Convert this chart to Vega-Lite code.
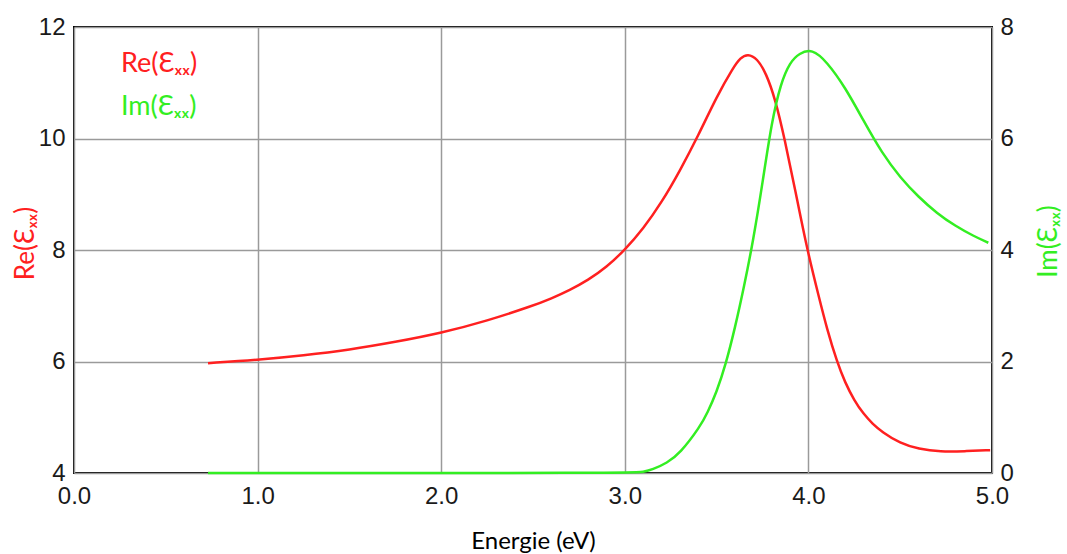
{
  "$schema": "https://vega.github.io/schema/vega-lite/v6.json",
  "width": 918,
  "height": 446,
  "autosize": {"type": "none"},
  "padding": {"left": 74, "top": 27, "right": 75, "bottom": 81},
  "background": "white",
  "config": {
    "view": {"stroke": "black", "strokeWidth": 2},
    "axis": {
      "domain": false,
      "ticks": false,
      "labelFlush": false,
      "labelOverlap": false,
      "labelFont": "Liberation Sans",
      "labelFontSize": 24,
      "labelColor": "#1a1a1a",
      "titleFont": "Lato",
      "titleFontWeight": "normal",
      "gridColor": "#9a9a9a",
      "gridWidth": 1.5
    }
  },
  "data": {
    "values": [
      {"E": 0.73, "value": 5.97, "series": "Re"},
      {"E": 1.0, "value": 6.03, "series": "Re"},
      {"E": 1.25, "value": 6.11, "series": "Re"},
      {"E": 1.5, "value": 6.21, "series": "Re"},
      {"E": 1.75, "value": 6.35, "series": "Re"},
      {"E": 2.0, "value": 6.51, "series": "Re"},
      {"E": 2.25, "value": 6.73, "series": "Re"},
      {"E": 2.5, "value": 7.0, "series": "Re"},
      {"E": 2.6, "value": 7.13, "series": "Re"},
      {"E": 2.7, "value": 7.28, "series": "Re"},
      {"E": 2.8, "value": 7.46, "series": "Re"},
      {"E": 2.9, "value": 7.69, "series": "Re"},
      {"E": 3.0, "value": 8.0, "series": "Re"},
      {"E": 3.1, "value": 8.38, "series": "Re"},
      {"E": 3.2, "value": 8.85, "series": "Re"},
      {"E": 3.3, "value": 9.42, "series": "Re"},
      {"E": 3.4, "value": 10.05, "series": "Re"},
      {"E": 3.5, "value": 10.75, "series": "Re"},
      {"E": 3.59, "value": 11.27, "series": "Re"},
      {"E": 3.63, "value": 11.45, "series": "Re"},
      {"E": 3.67, "value": 11.52, "series": "Re"},
      {"E": 3.72, "value": 11.44, "series": "Re"},
      {"E": 3.77, "value": 11.17, "series": "Re"},
      {"E": 3.82, "value": 10.7, "series": "Re"},
      {"E": 3.87, "value": 10.0, "series": "Re"},
      {"E": 3.93, "value": 9.05, "series": "Re"},
      {"E": 3.99, "value": 8.05, "series": "Re"},
      {"E": 4.06, "value": 7.12, "series": "Re"},
      {"E": 4.1, "value": 6.6, "series": "Re"},
      {"E": 4.155, "value": 6.0, "series": "Re"},
      {"E": 4.2, "value": 5.62, "series": "Re"},
      {"E": 4.25, "value": 5.3, "series": "Re"},
      {"E": 4.3, "value": 5.06, "series": "Re"},
      {"E": 4.35, "value": 4.88, "series": "Re"},
      {"E": 4.4, "value": 4.74, "series": "Re"},
      {"E": 4.5, "value": 4.53, "series": "Re"},
      {"E": 4.6, "value": 4.43, "series": "Re"},
      {"E": 4.72, "value": 4.38, "series": "Re"},
      {"E": 4.85, "value": 4.39, "series": "Re"},
      {"E": 4.99, "value": 4.41, "series": "Re"},
      {"E": 0.73, "value": 0, "series": "Im"},
      {"E": 3.05, "value": 0, "series": "Im"},
      {"E": 3.1, "value": 0.02, "series": "Im"},
      {"E": 3.15, "value": 0.06, "series": "Im"},
      {"E": 3.23, "value": 0.18, "series": "Im"},
      {"E": 3.3, "value": 0.35, "series": "Im"},
      {"E": 3.41, "value": 0.83, "series": "Im"},
      {"E": 3.45, "value": 1.08, "series": "Im"},
      {"E": 3.5, "value": 1.45, "series": "Im"},
      {"E": 3.55, "value": 1.95, "series": "Im"},
      {"E": 3.6, "value": 2.6, "series": "Im"},
      {"E": 3.65, "value": 3.35, "series": "Im"},
      {"E": 3.7, "value": 4.18, "series": "Im"},
      {"E": 3.75, "value": 5.2, "series": "Im"},
      {"E": 3.8, "value": 6.3, "series": "Im"},
      {"E": 3.85, "value": 7.0, "series": "Im"},
      {"E": 3.9, "value": 7.37, "series": "Im"},
      {"E": 3.95, "value": 7.53, "series": "Im"},
      {"E": 4.02, "value": 7.61, "series": "Im"},
      {"E": 4.1, "value": 7.38, "series": "Im"},
      {"E": 4.2, "value": 6.92, "series": "Im"},
      {"E": 4.3, "value": 6.32, "series": "Im"},
      {"E": 4.4, "value": 5.74, "series": "Im"},
      {"E": 4.5, "value": 5.3, "series": "Im"},
      {"E": 4.6, "value": 4.95, "series": "Im"},
      {"E": 4.7, "value": 4.66, "series": "Im"},
      {"E": 4.8, "value": 4.43, "series": "Im"},
      {"E": 4.9, "value": 4.25, "series": "Im"},
      {"E": 4.98, "value": 4.13, "series": "Im"}
    ]
  },
  "layer": [
    {
      "transform": [{"filter": "datum.series === 'Re'"}],
      "mark": {"type": "line", "interpolate": "basis", "strokeWidth": 2.5},
      "encoding": {
        "x": {
          "field": "E", "type": "quantitative",
          "scale": {"domain": [0, 5], "nice": false},
          "axis": {
            "title": "Energie (eV)", "values": [0, 1, 2, 3, 4, 5], "format": ".1f",
            "labelPadding": 11, "labelFontSize": 24, "titleFontSize": 24, "titlePadding": 21, "titleColor": "black",
            "grid": true
          }
        },
        "y": {
          "field": "value", "type": "quantitative",
          "scale": {"domain": [4, 12], "nice": false, "zero": false},
          "axis": {
            "orient": "left", "values": [4, 6, 8, 10, 12], "title": "Re(Ɛₓₓ)",
            "titleColor": "#ff2020", "titleFontSize": 26, "labelPadding": 9, "labelFontSize": 24, "titlePadding": 0,
            "titleY": 216, "grid": true
          }
        },
        "color": {
          "field": "series", "type": "nominal",
          "scale": {"domain": ["Re", "Im"], "range": ["#ff2020", "#33ee22"]},
          "legend": {
            "orient": "none", "legendX": 18, "legendY": 23, "title": null,
            "labelExpr": "datum.label + '(Ɛₓₓ)'",
            "labelFont": "Lato", "labelFontSize": 27, "symbolSize": 0, "symbolStrokeWidth": 0,
            "symbolOpacity": 0, "labelOffset": 2, "rowPadding": 15, "padding": 0,
            "encode": {"labels": {"update": {"fill": {"scale": "color", "field": "value"}}}}
          }
        }
      }
    },
    {
      "transform": [{"filter": "datum.series === 'Im'"}],
      "mark": {"type": "line", "interpolate": "basis", "strokeWidth": 2.5},
      "encoding": {
        "x": {"field": "E", "type": "quantitative"},
        "y": {
          "field": "value", "type": "quantitative",
          "scale": {"domain": [0, 8], "nice": false},
          "axis": {
            "orient": "right", "values": [0, 2, 4, 6, 8], "title": "Im(Ɛₓₓ)",
            "titleColor": "#33ee22", "titleFontSize": 26, "titleAngle": -90, "labelFontSize": 24,
            "labelPadding": 8, "titlePadding": 48, "titleY": 214, "grid": false
          }
        },
        "color": {"field": "series", "type": "nominal"}
      }
    }
  ],
  "resolve": {"scale": {"y": "independent"}}
}
